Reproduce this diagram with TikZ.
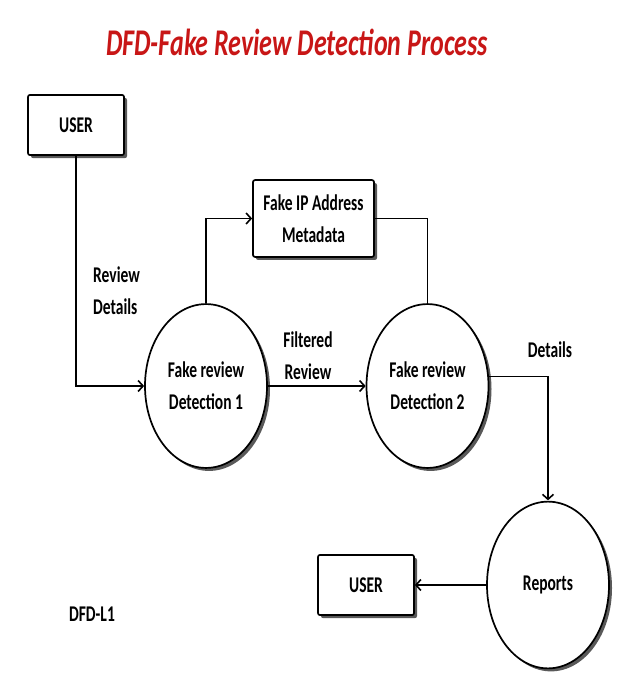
\documentclass[tikz,border=0pt]{standalone}
\usepackage{fontspec}
\setmainfont{Carlito}
\usetikzlibrary{arrows.meta,shadows,shapes.geometric}
\definecolor{titlered}{RGB}{200,22,22}

\begin{document}
\begin{tikzpicture}[x=1pt,y=-1pt,>={Straight Barb[length=5pt,width=11pt,line width=1.6pt]},
	tall/.style={yscale=1.45},
	txt/.style={tall,font=\fontsize{15.5}{22}\selectfont\bfseries,align=center,inner sep=0pt},
	shade/.style={drop shadow={shadow xshift=3pt,shadow yshift=-3pt,fill=black!65,opacity=1}},
	entity/.style={txt,draw,line width=1.7pt,rounded corners=2pt,fill=white,shade,minimum width=96pt,minimum height=41.5pt},
	process/.style={txt,ellipse,draw,line width=1.7pt,fill=white,shade,minimum width=122pt,minimum height=113pt},
	flow/.style={line width=1.3pt}]
				\useasboundingbox (0,0) rectangle (627,690);
				\node[tall,text=titlered,font=\fontsize{26}{30}\selectfont\bfseries\itshape] (title) at (297,42) {DFD-Fake Review Detection Process};
				\node[entity] (user) at (76,125) {USER};
				\node[entity,minimum width=121pt,minimum height=53pt] (ipdata) at (313.5,218.5) {Fake IP Address\\Metadata};
				\node[process] (det1) at (206,386) {Fake review\\Detection 1};
				\node[process] (det2) at (427.5,386) {Fake review\\Detection 2};
				\node[process,minimum height=115pt] (reports) at (548,585) {Reports};
				\node[entity] (userout) at (366,585) {USER};
				\node[txt,align=left,anchor=west] (lbreview) at (93,291) {Review\\Details};
				\node[txt] (lbfiltered) at (308,356) {Filtered\\Review};
				\node[txt] (lbdetails) at (550,350) {Details};
				\node[txt] (level) at (92,614) {DFD-L1};
				\draw[->,flow] (user.south) |- (det1.west);
				\draw[->,flow] (det1.north) |- (ipdata.west);
				\draw[flow] (ipdata.east) -| (det2.north);
				\draw[->,flow] (det2.6) -| (reports.north);
				\path[->,flow]
				(det1) edge (det2)
				(reports) edge (userout);
			\end{tikzpicture}
\end{document}
